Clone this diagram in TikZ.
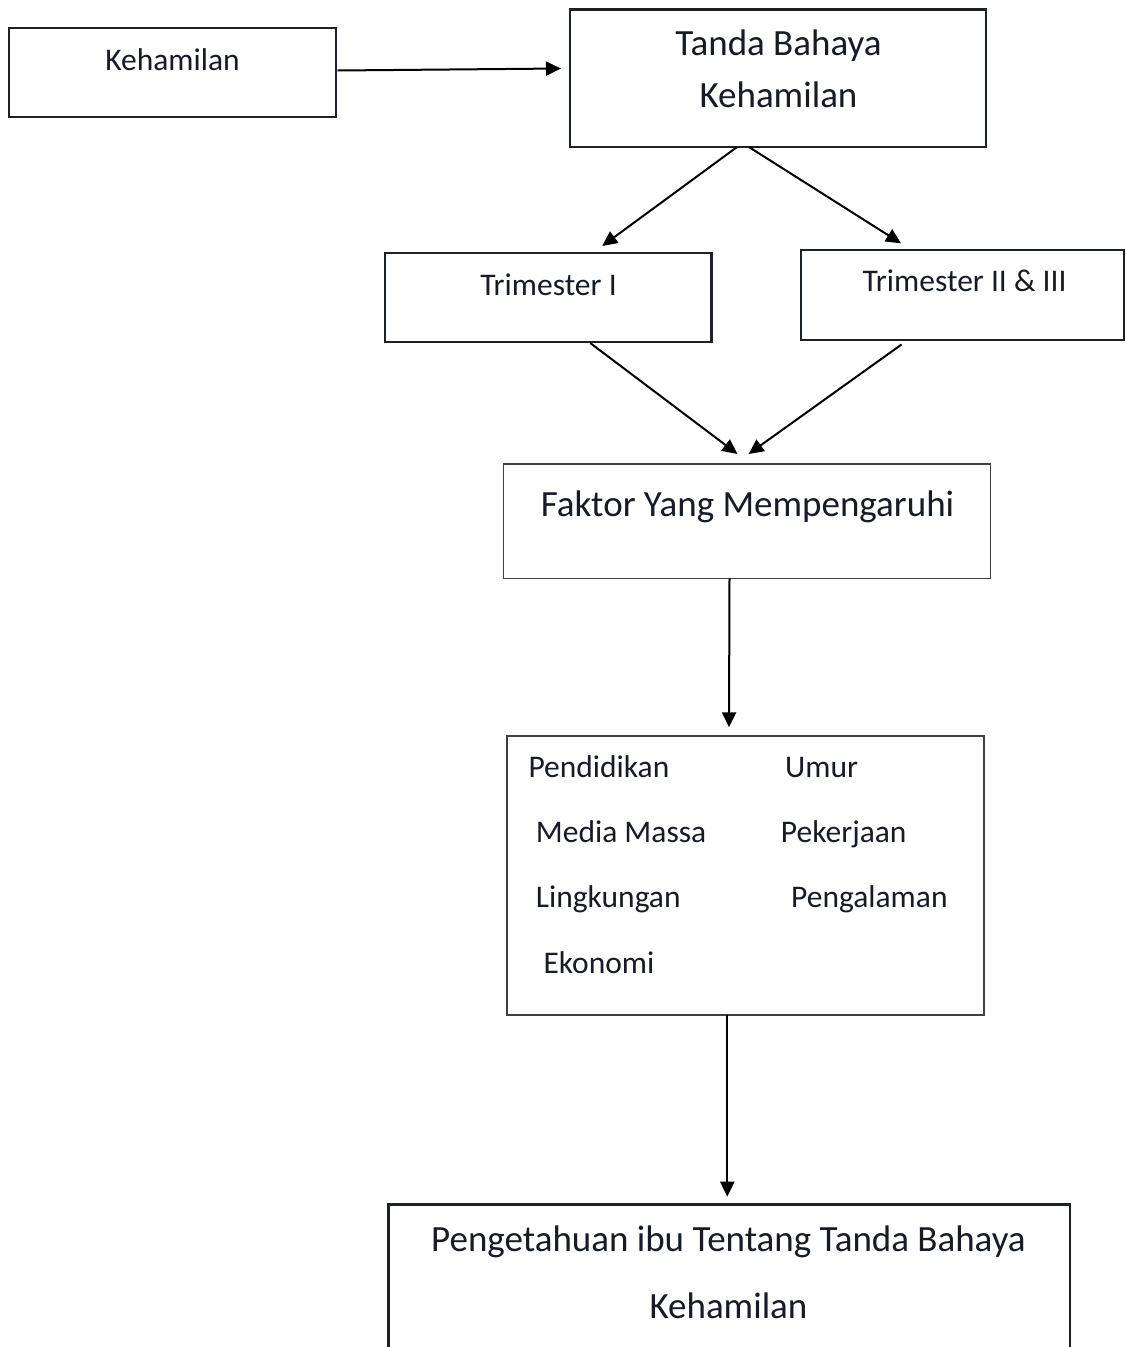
\documentclass[tikz,border=0pt]{standalone}
\usepackage{fontspec}
\setmainfont{Carlito}
\usetikzlibrary{arrows.meta}
\definecolor{ink}{RGB}{22,27,38}
\definecolor{edge}{RGB}{27,32,41}
\definecolor{thinedge}{RGB}{60,65,72}
\tikzset{
  boxthick/.style={draw=edge, line width=2.6pt, rectangle, outer sep=0pt, inner sep=0pt},
  boxthin/.style={draw=thinedge, line width=1.4pt, rectangle, outer sep=0pt, inner sep=0pt},
  bigtxt/.style={text=ink, inner sep=0pt, anchor=base, font=\fontsize{37}{44}\selectfont},
  smalltxt/.style={text=ink, inner sep=0pt, anchor=base, font=\fontsize{31.5}{38}\selectfont},
  itemtxt/.style={text=ink, inner sep=0pt, anchor=base west, font=\fontsize{31.5}{38}\selectfont},
  arr/.style={draw=black, line width=2pt, -{Triangle[length=15pt,width=14pt]}}
}
\begin{document}
\begin{tikzpicture}[x=1pt,y=-1pt]
\useasboundingbox[fill=white] (0,0) rectangle (1126,1347);
% boxes
\node[boxthick, minimum width=327pt, minimum height=89pt] (keh) at (172.5,72.5) {};
\node[boxthick, minimum width=416pt, minimum height=137.7pt] (tanda) at (778,78.2) {};
\node[boxthick, minimum width=326.5pt, minimum height=89pt] (tri1) at (548.2,297.5) {};
\node[boxthick, minimum width=323pt, minimum height=90pt] (tri2) at (962.5,295) {};
\node[boxthin, minimum width=487.4pt, minimum height=114.3pt] (faktor) at (747,521.2) {};
\node[boxthin, minimum width=477pt, minimum height=279pt] (items) at (745.5,875.5) {};
\node[boxthick, minimum width=681.7pt, minimum height=170pt] (peng) at (729.2,1289.3) {};
% texts
\node[smalltxt] (tkeh) at (172.5,70.7) {Kehamilan};
\node[bigtxt] (ttanda1) at (778.5,55) {Tanda Bahaya};
\node[bigtxt] (ttanda2) at (778.5,107) {Kehamilan};
\node[smalltxt] (ttri1) at (548.5,295) {Trimester I};
\node[smalltxt] (ttri2) at (964.5,291.7) {Trimester II \& III};
\node[bigtxt] (tfaktor) at (747.5,516.7) {Faktor Yang Mempengaruhi};
\node[itemtxt] (i1) at (528.3,777.3) {Pendidikan};
\node[itemtxt] (i2) at (785,777.3) {Umur};
\node[itemtxt] (i3) at (535.7,842.7) {Media Massa};
\node[itemtxt] (i4) at (780.7,842.7) {Pekerjaan};
\node[itemtxt] (i5) at (535.7,907.3) {Lingkungan};
\node[itemtxt] (i6) at (791,907.3) {Pengalaman};
\node[itemtxt] (i7) at (543.3,973.3) {Ekonomi};
\node[bigtxt] (tpeng1) at (728.5,1251.7) {Pengetahuan ibu Tentang Tanda Bahaya};
\node[bigtxt] (tpeng2) at (728.5,1318.3) {Kehamilan};
% connectors
\draw[arr] ([xshift=1.5pt,yshift=2pt]keh.east) -- ([xshift=-9pt,yshift=9.7pt]tanda.west);
\draw[arr] ([xshift=-41pt]tanda.south) -- ([xshift=54pt,yshift=7pt]tri1.north);
\draw[arr] ([xshift=-29pt]tanda.south) -- ([xshift=-61.5pt,yshift=6.7pt]tri2.north);
\draw[arr] ([xshift=42pt,yshift=-1pt]tri1.south) -- ([xshift=-9.5pt,yshift=10pt]faktor.north);
\draw[arr] ([xshift=-61pt,yshift=-4.5pt]tri2.south) -- ([xshift=1.5pt,yshift=10pt]faktor.north);
\draw[arr] ([xshift=-17.5pt]faktor.south) -- ([xshift=-16.5pt,yshift=8.7pt]items.north);
\draw[arr] ([xshift=-18.2pt]items.south) -- ([xshift=-1.9pt,yshift=7.6pt]peng.north);
\end{tikzpicture}
\end{document}
